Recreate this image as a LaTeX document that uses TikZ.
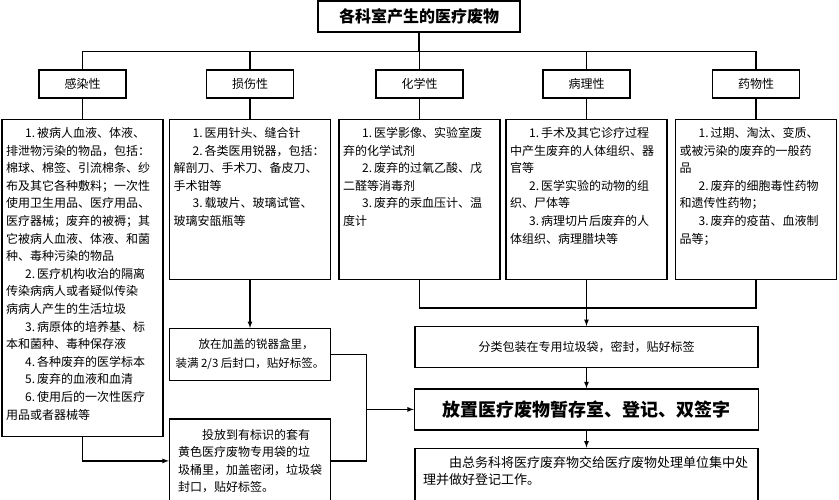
\documentclass[tikz,border=0pt]{standalone}
\usepackage{fontspec}
\setmainfont{Noto Sans CJK SC}
\usetikzlibrary{positioning}
\usetikzlibrary{calc}
\usetikzlibrary{arrows}

\newcommand{\itemtext}[2]{%
  \parbox[t][#1][t]{153pt}{\fontsize{12}{17.6}\selectfont
    \vspace*{3pt}#2}}
\newcommand{\num}[1]{\hspace*{1.6em}#1.\hspace{2pt}}

\begin{document}
\begin{tikzpicture}[x=1pt, y=-1pt,
    kindbox/.style={draw, line width=1.3pt, minimum width=87pt,
        minimum height=28pt, font=\fontsize{12}{14}\selectfont},
    itembox/.style={draw, line width=1.3pt, inner xsep=4pt, inner ysep=5pt},
    stepbox/.style={draw, line width=1.3pt, align=left},
    link/.style={line width=1.2pt}]

\useasboundingbox (0,0) rectangle (839,500);

% Kinds of waste

\node [draw, line width=1.3pt, minimum width=202pt, minimum height=31pt,
    font=\fontsize{16}{18}\selectfont\bfseries] (waste) at (419,16.5)
    {各科室产生的医疗废物};

\node [kindbox] (infect) at (82.5,84) {感染性};
\node [kindbox] (injury) at (250,84) {损伤性};
\node [kindbox] (chem) at (419.5,84) {化学性};
\node [kindbox] (patho) at (586.5,84) {病理性};
\node [kindbox] (drug) at (756,84) {药物性};

\node [itembox, below=20pt of infect] (infect-items) {\itemtext{307pt}{
    \num{1}被病人血液、体液、\\
    排泄物污染的物品，包括：\\
    棉球、棉签、引流棉条、纱\\
    布及其它各种敷料；一次性\\
    使用卫生用品、医疗用品、\\
    医疗器械；废弃的被褥；其\\
    它被病人血液、体液、和菌\\
    种、毒种污染的物品\\
    \num{2}医疗机构收治的隔离\\
    传染病病人或者疑似传染\\
    病病人产生的生活垃圾\\
    \num{3}病原体的培养基、标\\
    本和菌种、毒种保存液\\
    \num{4}各种废弃的医学标本\\
    \num{5}废弃的血液和血清\\
    \num{6}使用后的一次性医疗\\
    用品或者器械等}};

\node [itembox, below=20pt of injury] (injury-items) {\itemtext{150pt}{
    \num{1}医用针头、缝合针\\
    \num{2}各类医用锐器，包括：\\
    解剖刀、手术刀、备皮刀、\\
    手术钳等\\
    \num{3}载玻片、玻璃试管、\\
    玻璃安瓿瓶等}};

\node [itembox, below=20pt of chem] (chem-items) {\itemtext{150pt}{
    \num{1}医学影像、实验室废\\
    弃的化学试剂\\
    \num{2}废弃的过氧乙酸、戊\\
    二醛等消毒剂\\
    \num{3}废弃的汞血压计、温\\
    度计}};

\node [itembox, below=20pt of patho] (patho-items) {\itemtext{150pt}{
    \num{1}手术及其它诊疗过程\\
    中产生废弃的人体组织、器\\
    官等\\
    \num{2}医学实验的动物的组\\
    织、尸体等\\
    \num{3}病理切片后废弃的人\\
    体组织、病理腊块等}};

\node [itembox, below=20pt of drug] (drug-items) {\itemtext{150pt}{
    \num{1}过期、淘汰、变质、\\
    或被污染的废弃的一般药\\
    品\\
    \num{2}废弃的细胞毒性药物\\
    和遗传性药物；\\
    \num{3}废弃的疫苗、血液制\\
    品等；}};

% Handling steps

\node [stepbox, minimum width=161pt, minimum height=52pt,
    font=\fontsize{11.5}{19}\selectfont, below=48pt of injury-items] (sharps)
    {\hspace*{2em}放在加盖的锐器盒里，\\装满 2/3 后封口，贴好标签。};

\node [stepbox, minimum width=161pt, minimum height=84pt,
    font=\fontsize{12}{17.5}\selectfont, below=37pt of sharps] (bag)
    {\hspace*{2em}投放到有标识的套有\\黄色医疗废物专用袋的垃\\
    圾桶里，加盖密闭，垃圾袋\\封口，贴好标签。};

\node [stepbox, minimum width=343pt, minimum height=41pt,
    font=\fontsize{12}{14}\selectfont, below=46pt of patho-items] (sort)
    {分类包装在专用垃圾袋，密封，贴好标签};

\node [stepbox, minimum width=344pt, minimum height=41pt,
    font=\fontsize{18}{20}\selectfont\bfseries, below=20pt of sort] (storage)
    {放置医疗废物暂存室、登记、双签字};

\node [draw, line width=1.3pt, inner xsep=8pt, inner ysep=5pt,
    below=17pt of storage] (final)
    {\parbox[t][45pt][t]{327pt}{\fontsize{13}{17}\selectfont
    \vspace*{3pt}\hspace*{2em}由总务科将医疗废弃物交给医疗废物处理单位集中处\\
    理并做好登记工作。}};

% Connectors

\foreach \kind in {infect,injury,chem,patho,drug} {
    \draw [link] (waste.south) -- ++(0,19) -| (\kind.north);
    \draw [link] (\kind.south) -- (\kind-items.north);
}

\draw [link, -latex] (injury-items.south) -- (sharps.north);
\draw [link, -latex] (infect-items.south) |- (bag.west);

\coordinate (merge) at ($(storage.west)+(-47,0)$);
\draw [link] (sharps.east) -| (merge) |- (bag.east);
\draw [link, -latex] (merge) -- (storage.west);

\draw [link] (chem-items.south) -- ++(0,28) -| (drug-items.south);
\draw [link, -latex] (patho-items.south) -- (sort.north);
\draw [link, -latex] (sort) -- (storage);
\draw [link, -latex] (storage) -- (final);

\end{tikzpicture}
\end{document}
